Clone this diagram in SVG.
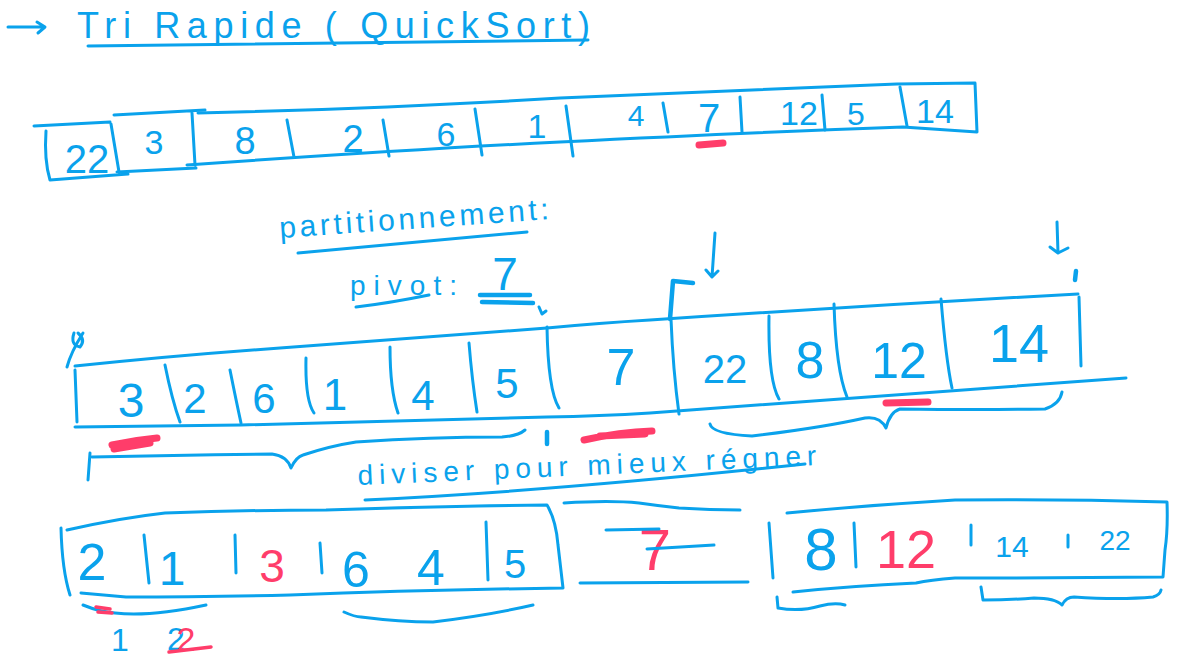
<svg xmlns="http://www.w3.org/2000/svg" width="1187" height="659" viewBox="0 0 1187 659">
<defs>
<style>
.s{fill:none;stroke:#0AA2EC;stroke-width:3;stroke-linecap:round;stroke-linejoin:round}
.sb{fill:none;stroke:#0AA2EC;stroke-width:4.5;stroke-linecap:round;stroke-linejoin:round}
.r{fill:none;stroke:#FF3D6A;stroke-width:7;stroke-linecap:round;stroke-linejoin:round}
.rt{fill:none;stroke:#FF3D6A;stroke-width:3.5;stroke-linecap:round}
.t{fill:#0AA2EC;font-family:"Liberation Sans",Arial,sans-serif}
.n{fill:#0AA2EC;font-family:"Liberation Sans",Arial,sans-serif;text-anchor:middle}
.rn{fill:#FF3D6A;font-family:"Liberation Sans",Arial,sans-serif;text-anchor:middle}
</style>
</defs>
<rect width="1187" height="659" fill="#ffffff"/>

<g id="title">
<path class="s" d="M8,27 L44,27 M37,22 L45,27 L38,33"/>
<text class="t" x="77" y="38" font-size="36" textLength="513" lengthAdjust="spacing">Tri Rapide ( QuickSort)</text>
<path class="s" d="M88,46 Q340,42 588,40"/>
</g>

<g id="array-initial">
<path class="s" d="M34,126 L110,122 M46,131 Q44,160 50,180 L128,174 M111,124 L119,172"/>
<path class="s" d="M114,115 L205,110 M192,113 L195,165 M117,172 L196,168"/>
<path class="s" d="M198,113 Q400,108 560,98 Q760,90 897,84 L975,83 L977,132 L903,127 Q760,132 560,142 Q400,150 187,165"/>
<path class="s" d="M900,87 L907,126"/>
<path class="s" d="M287,120 L294,157 M383,120 L389,156 M475,109 L482,155 M566,106 L573,156 M663,103 L668,132 M740,97 L742,132 M822,95 L825,130"/>
<text class="n" x="87" y="173" font-size="40">22</text>
<text class="n" x="154" y="154" font-size="34">3</text>
<text class="n" x="245" y="154" font-size="38">8</text>
<text class="n" x="353" y="152" font-size="38">2</text>
<text class="n" x="446" y="146" font-size="34">6</text>
<text class="n" x="537" y="138" font-size="34">1</text>
<text class="n" x="636" y="126" font-size="30">4</text>
<text class="n" x="709" y="132" font-size="40">7</text>
<text class="n" x="799" y="125" font-size="34">12</text>
<text class="n" x="856" y="125" font-size="32">5</text>
<text class="n" x="935" y="123" font-size="34">14</text>
<path class="r" d="M699,145 L723,143"/>
</g>

<g id="partition-label">
<text class="t" x="280" y="238" font-size="30" textLength="270" lengthAdjust="spacing" transform="rotate(-4 280 238)">partitionnement:</text>
<path class="s" d="M298,253 Q400,244 527,232"/>
<text class="t" x="350" y="295" font-size="28" textLength="107" lengthAdjust="spacing">pivot:</text>
<path class="s" d="M356,307 Q390,303 429,295"/>
<text class="n" x="505" y="290" font-size="46">7</text>
<path class="sb" d="M480,295 L530,295 M482,302 L533,303"/>
<path class="s" d="M539,307 L542,314 L546,311"/>
</g>

<g id="array-partitioned">
<path class="s" d="M67,367 Q71,352 83,333 M74,333 Q70,345 80,347 Q86,340 78,333"/>
<path class="s" d="M75,366 Q180,355 280,348 Q420,338 547,328 Q600,323 650,320 Q860,306 1078,294"/>
<path class="s" d="M75,427 Q160,426 241,425 Q400,421 547,417 Q600,416 650,413 Q850,398 1126,378"/>
<path class="s" d="M75,370 L77,422 M165,365 Q172,400 180,422 M230,370 Q236,400 241,423 M306,358 Q305,400 314,413 M390,347 Q390,390 398,413 M469,343 Q472,380 477,412 M547,327 Q548,390 559,408 M671,319 Q673,370 679,414 M769,316 Q768,380 779,399 M834,304 Q836,370 847,397 M941,299 Q946,360 952,388 M1079,297 L1081,366"/>
<text class="n" x="131" y="417" font-size="48">3</text>
<text class="n" x="195" y="413" font-size="42">2</text>
<text class="n" x="264" y="413" font-size="42">6</text>
<text class="n" x="335" y="410" font-size="44">1</text>
<text class="n" x="423" y="410" font-size="42">4</text>
<text class="n" x="507" y="398" font-size="42">5</text>
<text class="n" x="621" y="385" font-size="52">7</text>
<text class="n" x="725" y="383" font-size="40">22</text>
<text class="n" x="810" y="378" font-size="52">8</text>
<text class="n" x="899" y="378" font-size="50">12</text>
<text class="n" x="1019" y="362" font-size="54">14</text>
<path class="sb" d="M673,281 L693,283 M673,281 L670,319"/>
<path class="s" d="M715,233 L712,277 M706,270 L712,277 L718,271"/>
<path class="s" d="M1057,222 L1058,253 M1050,247 L1058,253 L1068,248"/>
<path class="sb" d="M1076,271 L1075,280"/>
<path class="r" d="M112,445 Q135,440 157,438 M114,449 L150,443"/>
<path class="r" d="M584,440 Q620,432 652,431 M600,436 L645,434"/>
<path class="r" d="M886,403 L928,402"/>
<path class="s" d="M90,453 L88,480 M92,457 Q180,455 272,454 Q287,456 291,468 Q296,457 303,455 Q330,446 356,442 Q430,437 502,437 Q518,436 525,430"/>
<path class="sb" d="M547,432 L547,444"/>
<path class="s" d="M710,424 Q712,434 752,436 Q820,428 865,418 Q880,416 886,428 Q890,412 900,409 Q980,410 1045,409 Q1060,404 1062,392"/>
</g>

<g id="motto">
<text class="t" x="358" y="485" font-size="28" textLength="459" lengthAdjust="spacing" transform="rotate(-2.5 358 485)">diviser pour mieux régner</text>
<path class="s" d="M365,500 C450,496 600,486 805,464"/>
</g>

<g id="left-part">
<path class="s" d="M67,530 Q120,518 165,513 Q250,510 326,510 Q450,506 547,505 Q556,520 558,545 L563,588 Q420,590 290,595 Q200,597 126,597 L81,593 M61,528 Q62,570 70,595"/>
<path class="s" d="M144,535 L149,583 M235,535 L236,573 M320,543 L322,573 M486,522 L488,580"/>
<text class="n" x="92" y="580" font-size="52">2</text>
<text class="n" x="172" y="585" font-size="48">1</text>
<text class="rn" x="272" y="582" font-size="46">3</text>
<text class="n" x="356" y="587" font-size="50">6</text>
<text class="n" x="431" y="585" font-size="50">4</text>
<text class="n" x="515" y="578" font-size="40">5</text>
<path class="s" d="M83,605 Q100,612 115,613 Q150,617 206,605"/>
<path class="rt" d="M96,607 L110,609 M98,612 L112,613"/>
<path class="s" d="M344,612 Q355,617 361,617 Q400,622 433,622 Q490,615 533,605"/>
<text class="n" x="120" y="651" font-size="32">1</text>
<text class="n" x="176" y="650" font-size="32">2</text>
<text class="rn" x="186" y="651" font-size="34">2</text>
<path class="rt" d="M169,652 L211,647"/>
</g>

<g id="pivot-part">
<path class="s" d="M564,503 Q610,500 639,503 Q660,506 679,508 Q710,510 740,510 M580,583 L748,582"/>
<text class="rn" x="655" y="570" font-size="58">7</text>
<path class="s" d="M606,530 L659,529 M647,549 L714,545"/>
</g>

<g id="right-part">
<path class="s" d="M769,523 L773,578 M787,513 Q870,505 955,500 Q1060,499 1167,502 Q1168,530 1165,550 L1163,577 Q1060,578 955,578 Q930,580 916,583 Q850,586 793,592"/>
<path class="s" d="M854,523 L856,567 M971,525 L971,545 M1068,535 L1068,547"/>
<text class="n" x="821" y="570" font-size="60">8</text>
<text class="rn" x="906" y="568" font-size="54">12</text>
<text class="n" x="1012" y="557" font-size="30">14</text>
<text class="n" x="1115" y="550" font-size="28">22</text>
<path class="s" d="M777,597 L778,608 Q800,612 820,606 Q835,602 845,605"/>
<path class="s" d="M981,587 L983,600 Q1010,600 1034,598 Q1055,598 1062,605 Q1066,597 1074,597 Q1120,600 1153,597 Q1160,595 1161,590"/>
</g>
</svg>
